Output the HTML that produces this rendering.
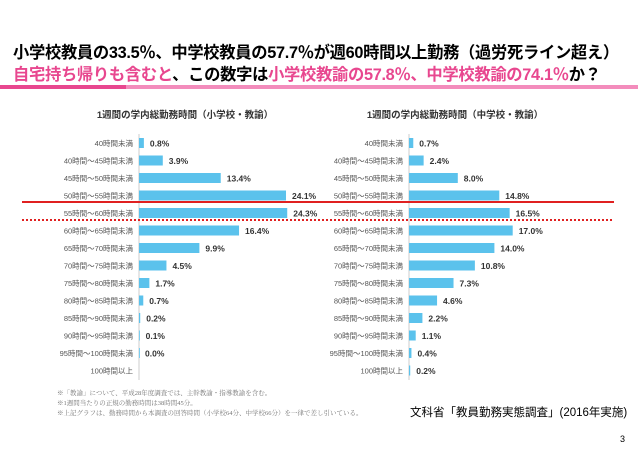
<!DOCTYPE html>
<html><head><meta charset="utf-8"><style>
body{margin:0;width:638px;height:452px;background:#fff;overflow:hidden;font-family:"Liberation Sans","Noto Sans CJK JP",sans-serif;position:relative}
.h{position:absolute;left:13px;font-size:16.3px;font-weight:bold;letter-spacing:-0.3px;white-space:nowrap}
.p{color:#e8478f}
</style></head><body>
<div class="h" style="top:39px">小学校教員の33.5％、中学校教員の57.7％が週60時間以上勤務（過労死ライン超え）</div>
<div class="h" style="top:61px"><span class="p">自宅持ち帰りも含むと</span>、この数字は<span class="p">小学校教諭の57.8％、中学校教諭の74.1％</span>か？</div>
<div style="position:absolute;left:0;top:85px;width:126px;height:4px;background:#e8478f"></div>
<div style="position:absolute;left:126px;top:85px;width:512px;height:4px;background:#f38cbc"></div>
<svg id="c" width="638" height="452" style="position:absolute;left:0;top:0"></svg>
<div style="position:absolute;left:57px;top:389px;font-size:6.5px;line-height:10px;color:#777;font-family:'Liberation Serif','Noto Serif CJK SC',serif">※「教諭」について、平成28年度調査では、主幹教諭・指導教諭を含む。<br>※1週間当たりの正規の勤務時間は38時間45分。<br>※上記グラフは、勤務時間から本調査の回答時間（小学校64分、中学校66分）を一律で差し引いている。</div>
<div style="position:absolute;left:410px;top:404px;font-size:11.5px">文科省「教員勤務実態調査」(2016年実施)</div>
<div style="position:absolute;left:620px;top:434px;font-size:9px">3</div>
<script>
const categories=["40時間未満","40時間～45時間未満","45時間～50時間未満","50時間～55時間未満","55時間～60時間未満","60時間～65時間未満","65時間～70時間未満","70時間～75時間未満","75時間～80時間未満","80時間～85時間未満","85時間～90時間未満","90時間～95時間未満","95時間～100時間未満","100時間以上"];
const elementaryValues=[0.8,3.9,13.4,24.1,24.3,16.4,9.9,4.5,1.7,0.7,0.2,0.1,0.0,null];
const juniorValues=[0.7,2.4,8.0,14.8,16.5,17.0,14.0,10.8,7.3,4.6,2.2,1.1,0.4,0.2];
const titles=["1週間の学内総勤務時間（小学校・教諭）","1週間の学内総勤務時間（中学校・教諭）"];
const svg=document.getElementById('c');const NS='http://www.w3.org/2000/svg';
function mk(t,a,txt){const e=document.createElementNS(NS,t);for(const k in a)e.setAttribute(k,a[k]);if(txt!=null)e.textContent=txt;svg.appendChild(e);return e;}
const y=i=>143+i*17.5;
function chart(ax,vals,title,tx,nm){
 const x=v=>ax+v*6.1;
 let t=mk('text',{x:tx,y:118,'font-size':9.5,'font-weight':'bold','text-anchor':'middle',fill:'#333'},title);
 
 let l=mk('line',{x1:ax,x2:ax,y1:134,y2:380,stroke:'#ccc','stroke-width':1});
 
 categories.forEach((c,i)=>{
  let lb=mk('text',{x:ax-6,y:y(i)+3,'font-size':7.5,'text-anchor':'end',fill:'#555'},c);
  
  const v=vals[i];if(v==null)return;
  let r=mk('rect',{x:ax,y:y(i)-5,width:Math.max(x(v)-ax,0.8),height:10,fill:'#5bc2ec'});
  
  let vt=mk('text',{x:x(v)+6,y:y(i)+3.5,'font-size':8.5,'font-weight':'bold',fill:'#333'},v.toFixed(1)+'%');
  
 });
}
chart(139,elementaryValues,titles[0],185,'elementary');
chart(409,juniorValues,titles[1],455,'junior');
let s=mk('line',{x1:22,x2:614,y1:202,y2:202,stroke:'#e02020','stroke-width':2});

let d=mk('line',{x1:22,x2:614,y1:220,y2:220,stroke:'#e02020','stroke-width':2,'stroke-dasharray':'2,2'});

</script>
</body></html>
